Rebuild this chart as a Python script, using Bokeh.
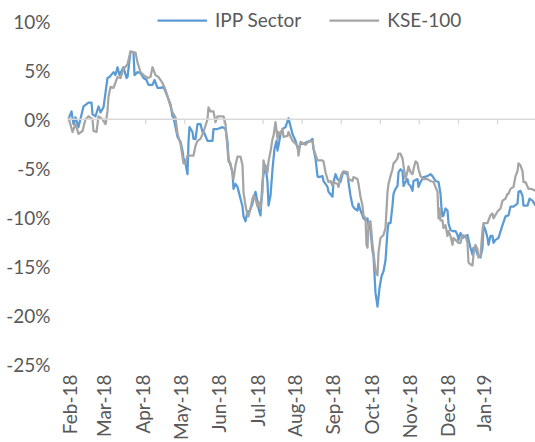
import math
from bokeh.plotting import figure
from bokeh.models import Range1d, FixedTicker, PrintfTickFormatter, Span, Legend, LegendItem
from bokeh.embed import file_html
from bokeh.resources import INLINE

# ---- data (trading-day index, cumulative return in %) ----
ipp_day = [0, 1.5, 2.5, 3.5, 5, 7.5, 10, 11.5, 12, 13.5, 15, 16, 17.5, 19.5, 20.5, 22.5, 23.5, 24.5,
           25.5, 27.5, 29, 29.5, 31, 32.5, 33, 34.5, 36, 37.5, 39, 40, 42, 43, 44.5, 46, 47.5, 49.5,
           51, 52, 52.5, 53.5, 54.5, 56, 57, 57.5, 58.5, 59.5, 60, 60.5, 62, 62.5, 63.5, 64.5, 66,
           67, 67.5, 69.5, 72, 72.5, 74.5, 77, 78.5, 79.5, 80, 82, 82.5, 83.5, 84.5, 85, 86, 87,
           87.5, 88.5, 89.5, 90.5, 92, 92.5, 93.5, 94.5, 95, 96, 97, 97.5, 98.5, 99.5, 100, 101,
           102, 103, 104, 104.5, 105, 106, 107, 108.5, 110, 111, 112, 113.5, 115, 116, 117.5,
           119.5, 121, 122, 122.5, 123.5, 124.5, 125, 127, 127.5, 128.5, 129.5, 130, 132, 132.5,
           133.5, 134.5, 136, 137, 137.5, 139.5, 140, 141, 142, 143, 144.5, 145, 146, 147, 147.5,
           148.5, 149.5, 150, 151, 152, 152.5, 153.5, 154.5, 155.5, 156.5, 157.5, 158.5, 159.5,
           160, 161, 162, 162.5, 163.5, 164.5, 165, 166, 167, 167.5, 168.5, 169.5, 170, 171, 172,
           172.5, 174.5, 175, 176, 177.5, 179.5, 181, 182, 183.5, 185, 186, 186.5, 187, 187.5,
           188.5, 189.5, 190, 191, 192, 193.5, 194.5, 195, 196, 197, 198.5, 199.5, 200, 201, 202,
           202.5, 203.5, 204.5, 205, 206, 207, 207.5, 208.5, 209.5, 210, 211, 212, 212.5, 213.5,
           215, 217, 218.5, 220, 221, 222.5, 224.5, 225, 226, 227, 227.5, 229.5, 230.5, 232, 233.5]
ipp_ret = [0.0, 0.8, -0.5, 0.2, -0.8, 1.3, 1.7, 1.7, 0.5, 0.3, 1.3, 0.7, 1.2, 4.2, 4.3, 4.8, 4.5, 5.3,
           4.5, 5.3, 4.2, 4.3, 6.9, 6.8, 4.5, 4.8, 4.7, 4.2, 4.0, 3.5, 3.5, 4.0, 3.2, 3.2, 3.3, 2.3,
           1.5, 0.3, 0.2, -0.8, -1.8, -2.3, -3.2, -4.0, -4.5, -5.6, -2.3, -0.8, -1.3, -2.0, -2.0, -0.5, -0.5,
           -1.3, -1.2, -2.2, -2.2, -1.0, -1.0, -0.8, -1.0, -2.3, -4.0, -5.4, -7.1, -6.6, -6.9, -7.3, -8.1, -8.9,
           -9.9, -10.4, -9.4, -9.4, -8.6, -8.1, -7.4, -8.4, -9.1, -9.8, -6.4, -5.6, -4.7, -6.4, -8.8, -7.8,
           -5.1, -3.0, -2.2, -3.2, -2.7, -1.5, -1.0, -0.8, 0.1, -0.7, -1.5, -2.2, -3.2, -2.5, -2.5,
           -2.3, -2.2, -2.0, -3.0, -4.0, -5.8, -5.9, -5.8, -6.3, -6.6, -6.9, -7.4, -7.9, -6.4,
           -5.6, -6.1, -6.4, -5.6, -5.4, -5.6, -6.4, -7.8, -8.8, -9.1, -9.3, -8.6, -9.3, -9.8, -10.1,
           -10.3, -10.1, -10.8, -11.3, -13.4, -13.9, -17.7, -19.1, -17.2, -16.0, -15.5, -14.4, -11.4,
           -10.6, -10.6, -8.8, -7.6, -7.1, -6.8, -5.4, -5.1, -5.3, -6.8, -6.4, -6.1, -6.6, -6.8, -7.3,
           -6.3, -6.1, -6.9, -6.4, -5.9, -5.8, -5.6, -5.8, -6.3, -6.4, -7.6, -9.1, -9.9, -9.8,
           -9.1, -9.3, -10.6, -11.3, -11.4, -11.4, -11.8, -12.3, -11.6, -12.1, -11.9, -11.8, -12.3, -13.1, -13.8,
           -13.1, -13.1, -13.8, -13.9, -14.1, -13.1, -10.8, -11.3, -12.1, -12.8, -11.9, -11.9, -12.6, -12.3,
           -12.1, -10.8, -9.9, -9.8, -8.9, -8.9, -8.6, -7.4, -7.3, -7.8, -8.8, -8.8, -8.1, -8.3, -8.8]

kse_day = [0, 2, 3.5, 5, 7, 8.5, 10, 12, 12.5, 14, 15, 17, 18.5, 19.5, 20, 21, 22.5, 24.5, 26, 27.5,
           29.5, 31, 33.5, 34.5, 36, 37.5, 39.5, 41, 42, 43.5, 45, 47, 48.5, 50, 52, 53.5, 54.5, 56,
           57.5, 58.5, 59.5, 61, 62.5, 63.5, 64.5, 66, 67.5, 69.5, 70, 71, 72.5, 73.5, 74.5, 77.5,
           78.5, 79.5, 80, 81, 82.5, 83.5, 84.5, 86, 87, 87.5, 88.5, 89.5, 90, 91, 92, 92.5, 93.5,
           94.5, 95, 96, 97, 97.5, 98.5, 99.5, 100, 101, 102, 102.5, 103.5, 104.5, 105, 106, 107,
           107.5, 109.5, 110, 112, 112.5, 114.5, 115, 116, 118.5, 120, 122, 122.5, 124.5, 127,
           127.5, 128.5, 129.5, 130, 131, 132, 132.5, 134.5, 135, 136, 137, 137.5, 139.5, 140, 142,
           142.5, 144.5, 145, 146, 147, 147.5, 148.5, 149, 149.5, 150, 151, 152, 152.5, 153.5, 154.5,
           155, 156, 157, 157.5, 158.5, 159.5, 160, 161, 162, 162.5, 163.5, 164.5, 165, 166, 167,
           167.5, 168.5, 169.5, 170, 171, 172, 172.5, 173.5, 174.5, 175, 176, 177.5, 179.5, 181,
           182.5, 183.5, 184.5, 185, 185.5, 186, 187, 187.5, 188.5, 189.5, 190, 191, 192, 192.5,
           193.5, 195, 196, 197, 198.5, 199.5, 200, 201, 202, 202.5, 203.5, 204.5, 205, 206, 207,
           207.5, 209.5, 210, 211, 212, 212.5, 214.5, 216, 217, 218.5, 219.5, 220, 221, 222.5,
           223.5, 224.5, 225, 226, 227, 227.5, 228.5, 230, 231.5, 233.5]
kse_ret = [0.2, -1.3, -0.5, -1.5, -1.2, 0.0, 0.3, 0.0, -1.2, -1.3, 0.3, 0.0, -0.5, 0.8, 2.3, 3.3, 3.2, 4.3, 4.2, 5.1,
           5.6, 6.9, 6.8, 5.8, 4.8, 4.5, 4.2, 4.3, 5.3, 4.5, 4.3, 3.7, 3.0, 2.0, 0.7, 0.2, -1.5, -2.5,
           -4.5, -4.5, -3.7, -3.7, -3.7, -2.7, -2.2, -2.0, -1.3, 0.0, 1.2, 0.8, 0.8, -0.3, 0.3, 0.3,
           -0.5, -3.0, -4.3, -4.5, -6.1, -4.7, -3.8, -3.8, -4.7, -7.4, -8.8, -9.8, -9.9, -9.1, -8.1, -7.8, -8.1,
           -8.9, -8.4, -9.1, -7.4, -4.2, -5.1, -5.4, -4.3, -3.3, -2.0, -1.7, -0.3, -2.0, -1.3, -1.5, -1.0,
           -1.8, -1.7, -1.3, -2.2, -2.3, -2.7, -3.7, -2.3, -2.6, -2.3, -2.2, -3.0, -4.2, -4.2,
           -4.3, -5.4, -6.1, -6.4, -6.3, -6.8, -6.4, -6.6, -6.9, -5.9, -5.4, -5.3, -5.4, -6.1, -6.3,
           -5.9, -6.1, -6.6, -7.9, -8.8, -9.8, -10.1, -12.8, -13.1, -10.6, -10.4, -12.8, -13.6, -15.5, -15.9,
           -13.6, -12.1, -11.9, -11.8, -11.1, -7.4, -6.6, -5.8, -5.1, -4.5, -4.3, -4.0, -3.5, -3.5, -4.0,
           -4.7, -6.1, -5.3, -4.8, -5.4, -5.6, -5.1, -4.3, -4.5, -5.1, -5.8, -6.1, -6.1, -6.3,
           -6.4, -6.9, -7.4, -10.1, -9.1, -10.3, -10.3, -11.1, -10.8, -11.9, -11.4, -11.9, -12.8, -12.1,
           -12.3, -12.6, -12.6, -11.8, -11.9, -12.6, -14.6, -14.8, -14.9, -13.8, -12.8, -13.3, -14.1, -13.9, -11.3,
           -10.6, -10.6, -10.3, -9.8, -9.6, -10.1, -9.4, -9.1, -8.3, -8.1, -7.6, -7.6, -7.1, -6.9,
           -5.8, -5.3, -4.5, -4.7, -5.3, -6.4, -6.4, -7.1, -7.1, -7.3]

month_label_days = [0.5, 17.5, 37, 56, 75, 94.5, 113, 132, 151.5, 170.5, 189.5, 207.5]
month_labels = ["Feb-18", "Mar-18", "Apr-18", "May-18", "Jun-18", "Jul-18",
                "Aug-18", "Sep-18", "Oct-18", "Nov-18", "Dec-18", "Jan-19"]
zero_tick_days = [-0.5 + 19.55 * k for k in range(12)]
y_ticks = [-25, -20, -15, -10, -5, 0, 5, 10]

FONT = "Lato"
TXT = "#595959"
FS = "19px"

p = figure(width=535, height=442, output_backend="svg", toolbar_location=None,
           x_range=Range1d(-0.5, 233.5), y_range=Range1d(-25, 12),
           min_border_left=67, min_border_right=0, min_border_top=1, min_border_bottom=74)
p.xgrid.visible = False
p.ygrid.visible = False
p.outline_line_color = None
p.background_fill_color = "white"
p.border_fill_color = "white"

# y axis
p.yaxis.ticker = FixedTicker(ticks=y_ticks)
p.yaxis.formatter = PrintfTickFormatter(format="%d%%")
p.yaxis.axis_line_color = None
p.yaxis.major_tick_line_color = None
p.yaxis.minor_tick_line_color = None
p.yaxis.major_tick_out = 0
p.yaxis.minor_tick_out = 0
p.yaxis.major_label_text_font = FONT
p.yaxis.major_label_text_font_size = FS
p.yaxis.major_label_text_color = TXT
p.yaxis.major_label_standoff = 17

# x axis (labels at bottom)
p.xaxis.ticker = FixedTicker(ticks=month_label_days)
p.xaxis.major_label_overrides = {d: lab for d, lab in zip(month_label_days, month_labels)}
p.xaxis.axis_line_color = None
p.xaxis.major_tick_line_color = None
p.xaxis.minor_tick_line_color = None
p.xaxis.major_tick_out = 0
p.xaxis.minor_tick_out = 0
p.xaxis.major_label_orientation = math.pi / 2
p.xaxis.major_label_text_font = FONT
p.xaxis.major_label_text_font_size = FS
p.xaxis.major_label_text_color = TXT
p.xaxis.major_label_standoff = 10

# zero line with tick marks
p.add_layout(Span(location=0, dimension="width", line_color="#D9D9D9", line_width=1.3))
p.segment(x0=zero_tick_days, y0=[0] * len(zero_tick_days), x1=zero_tick_days,
          y1=[-0.5] * len(zero_tick_days), line_color="#D9D9D9", line_width=1.3)

r1 = p.line(ipp_day, ipp_ret, line_color="#5B9BD5", line_width=2.25, line_join="round")
r2 = p.line(kse_day, kse_ret, line_color="#A5A5A5", line_width=2.25, line_join="round")

legend = Legend(items=[LegendItem(label="IPP Sector", renderers=[r1]),
                       LegendItem(label="KSE-100", renderers=[r2])],
                orientation="horizontal", location=(90, 333),
                background_fill_alpha=0, border_line_color=None,
                label_text_font=FONT, label_text_font_size=FS, label_text_color=TXT,
                glyph_width=50, glyph_height=20, label_height=20, label_standoff=8,
                spacing=28, padding=0, margin=0)
p.add_layout(legend)

open("out.html", "w").write(file_html(p, INLINE))
